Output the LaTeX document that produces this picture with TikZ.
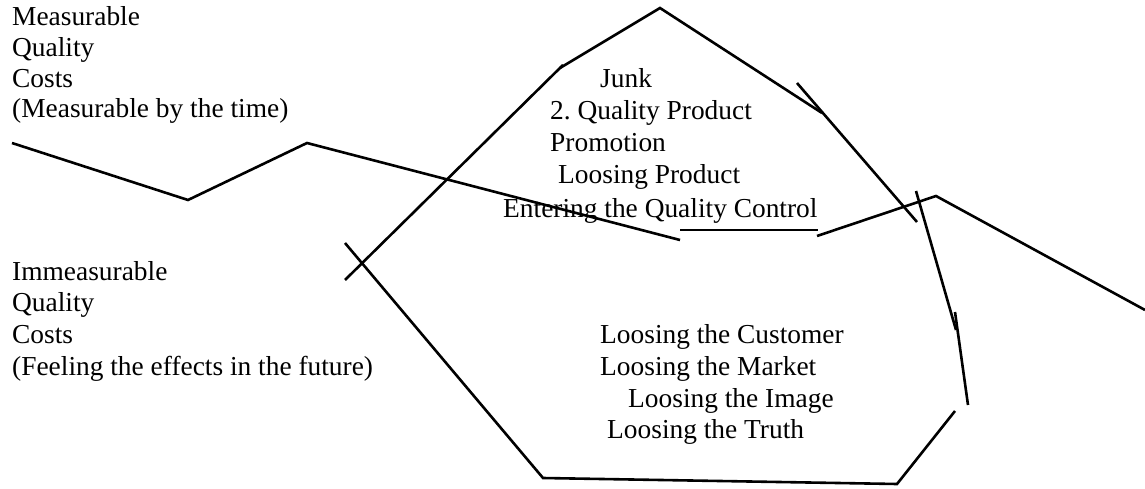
\documentclass[tikz,border=0pt]{standalone}
\usepackage{fontspec}
\setmainfont{Liberation Serif}
\usetikzlibrary{positioning}

\tikzset{Label/.style = {anchor = base west, inner sep = 0pt,
                         font = \fontsize{27.4}{31}\selectfont},
         Stroke/.style = {line width = 2.6pt, line join = miter}}

\begin{document}
\begin{tikzpicture}[x = 1pt, y = -1pt]
\useasboundingbox (0,0) rectangle (1145,489);
% measurable side
\node[Label] (m0) at (12,26)  {Measurable};
\node[Label] (m1) at (12,57)  {Quality};
\node[Label] (m2) at (12,88)  {Costs};
\node[Label] (m3) at (12,118) {(Measurable by the time)};
% immeasurable side
\node[Label] (i0) at (12,280) {Immeasurable};
\node[Label] (i1) at (12,311) {Quality};
\node[Label] (i2) at (12,343) {Costs};
\node[Label] (i3) at (12,375) {(Feeling the effects in the future)};
% inside, top
\node[Label] (t0) at (600,88)  {Junk};
\node[Label] (t1) at (550,120) {2.\ Quality Product};
\node[Label] (t2) at (550,152) {Promotion};
\node[Label] (t3) at (558,184) {Loosing Product};
\node[Label] (t4) at (503,217) {Entering the Quality Control};
% inside, bottom
\node[Label] (b0) at (600,343) {Loosing the Customer};
\node[Label] (b1) at (600,375) {Loosing the Market};
\node[Label] (b2) at (628,407) {Loosing the Image};
\node[Label] (b3) at (607,438) {Loosing the Truth};
% points
\coordinate (w0) at (12,143);
\coordinate (w1) at (188,200);
\coordinate (w2) at (307,143);
\coordinate (w3) at (680,240);
\coordinate (h0) at (680,230);
\coordinate (h1) at (818,230);
\coordinate (r0) at (817,236);
\coordinate (r1) at (936,196);
\coordinate (r2) at (1145,310);
\coordinate (a0) at (345,280);
\coordinate (a1) at (563,65);
\coordinate (c0) at (560,68);
\coordinate (c1) at (660,8);
\coordinate (c2) at (822,113);
\coordinate (d0) at (797,83);
\coordinate (d1) at (917,222);
\coordinate (e0) at (916,191);
\coordinate (e1) at (956,330);
\coordinate (g0) at (955,312);
\coordinate (g1) at (968,405);
\coordinate (f0) at (345,243);
\coordinate (f1) at (543,478);
\coordinate (f2) at (897,484);
\coordinate (f3) at (955,411);
% strokes
\draw[Stroke] (w0) -- (w1) -- (w2) -- (w3);
\draw[Stroke] (h0) -- (h1);
\draw[Stroke] (r0) -- (r1) -- (r2);
\draw[Stroke] (a0) -- (a1);
\draw[Stroke] (c0) -- (c1) -- (c2);
\draw[Stroke] (d0) -- (d1);
\draw[Stroke] (e0) -- (e1);
\draw[Stroke] (g0) -- (g1);
\draw[Stroke] (f0) -- (f1) -- (f2) -- (f3);
\end{tikzpicture}
\end{document}
